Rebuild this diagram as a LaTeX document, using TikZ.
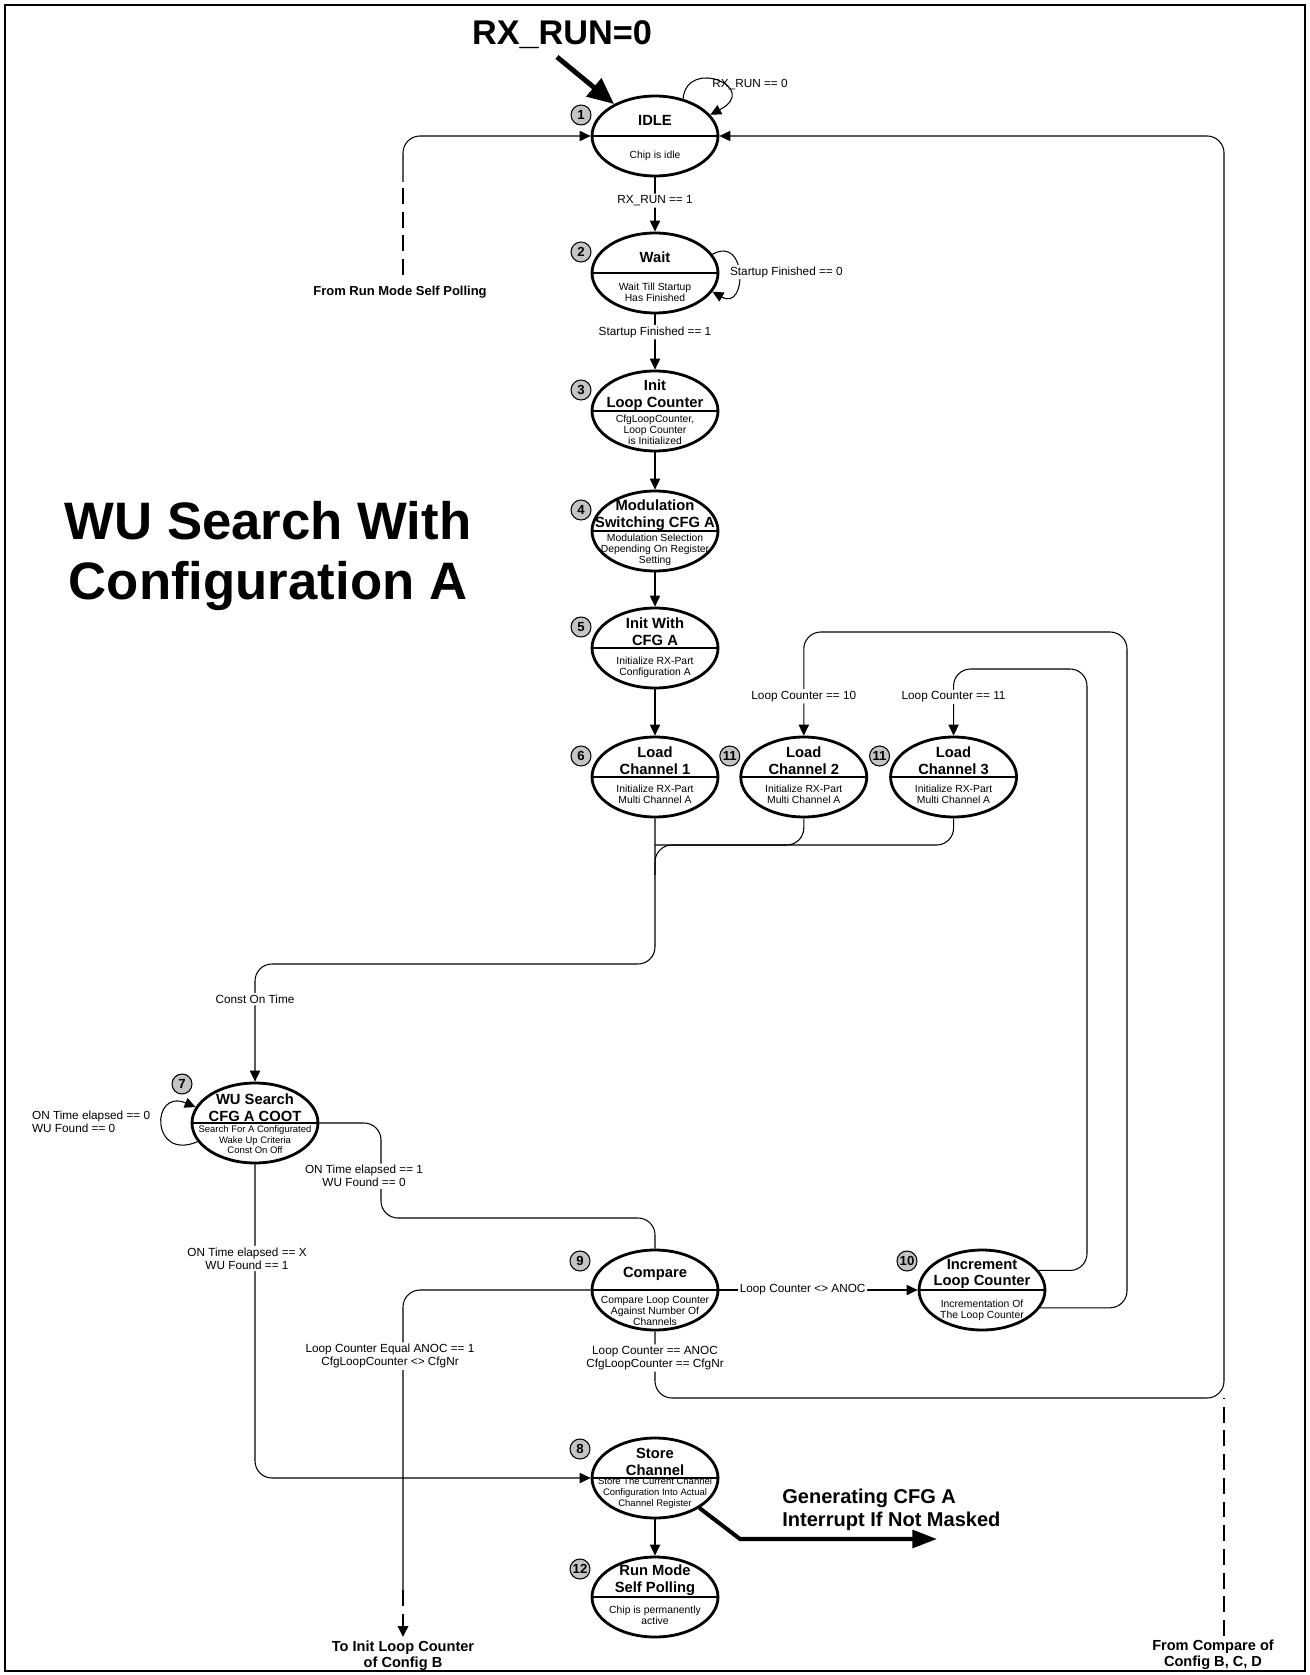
\documentclass[tikz,border=0pt]{standalone}
\usepackage{fontspec}
\setmainfont{Liberation Sans}
\usepackage{xcolor}
\definecolor{BadgeGray}{HTML}{C4C4C4}
\usetikzlibrary{shapes.geometric, arrows.meta, positioning, calc}

\begin{document}
\begin{tikzpicture}[
  x=0.02cm, y=-0.02cm,
  state/.style={
    ellipse,
    draw,
    fill=white,
    line width=1.6pt,
    minimum width=2.52cm,
    minimum height=1.6cm,
    inner sep=0pt,
    path picture={\draw[line width=0.6pt]
      (path picture bounding box.west) -- (path picture bounding box.east);}},
  stitle/.style={
    font=\fontsize{8.4}{9.6}\selectfont\bfseries,
    align=center,
    inner sep=0pt},
  ssub/.style={
    font=\fontsize{5.9}{6.4}\selectfont,
    align=center,
    inner sep=0pt},
  ssubsmall/.style={
    ssub,
    font=\fontsize{5.4}{6}\selectfont},
  badge/.style={
    circle,
    draw,
    line width=0.6pt,
    fill=BadgeGray,
    font=\fontsize{7.5}{8}\selectfont\bfseries,
    inner sep=0pt,
    minimum size=0.4cm},
  wire/.style={
    draw,
    line width=0.6pt,
    rounded corners=0.34cm},
  arr/.style={
    wire,
    -{Triangle[length=6.2pt,width=5.8pt]}},
  dashline/.style={
    draw,
    line width=1.4pt,
    dash pattern=on 9pt off 4.5pt},
  dasharr/.style={
    dashline,
    -{Triangle[length=6.2pt,width=5.8pt]}},
  bigarr/.style={
    draw,
    line width=2.8pt,
    -{Triangle[length=15pt,width=13pt]}},
  irqarr/.style={
    draw,
    line width=2.3pt,
    -{Triangle[length=14pt,width=10pt]}},
  lbl/.style={
    font=\fontsize{6.7}{7.4}\selectfont,
    fill=white,
    inner sep=1pt,
    align=center},
  lblplain/.style={
    font=\fontsize{6.7}{7.4}\selectfont,
    inner sep=1pt,
    align=left},
  sidetxt/.style={
    font=\fontsize{8.3}{9.2}\selectfont\bfseries,
    align=center,
    inner sep=0pt},
]

\useasboundingbox (0,0) rectangle (1309,1675);
\draw[line width=0.6pt] (5,5) rectangle (1305,1671);

\node[font=\fontsize{30}{34}\selectfont\bfseries, align=center] (title)
  at (268,556) {WU Search With\\Configuration A};

\node[state] (idle) at (655,136) {};
\node[stitle] (idle-t) at ([shift={(0,-16)}]idle.center) {IDLE};
\node[ssub] (idle-s) at ([shift={(0,20)}]idle.center) {Chip is idle};
\node[badge] (n1) at ([shift={(-74,-21)}]idle.center) {1};

\node[state] (wait) at (655,273) {};
\node[stitle] (wait-t) at ([shift={(0,-16)}]wait.center) {Wait};
\node[ssub] (wait-s) at ([shift={(0,19)}]wait.center) {Wait Till Startup\\Has Finished};
\node[badge] (n2) at ([shift={(-74,-21)}]wait.center) {2};

\node[state] (initlc) at (655,411) {};
\node[stitle] (initlc-t) at ([shift={(0,-16)}]initlc.center) {Init\\Loop Counter};
\node[ssub] (initlc-s) at ([shift={(0,19)}]initlc.center) {CfgLoopCounter,\\Loop Counter\\is Initialized};
\node[badge] (n3) at ([shift={(-74,-21)}]initlc.center) {3};

\node[state] (modsw) at (655,531) {};
\node[stitle] (modsw-t) at ([shift={(0,-16)}]modsw.center) {Modulation\\Switching CFG A};
\node[ssub] (modsw-s) at ([shift={(0,19)}]modsw.center) {Modulation Selection\\Depending On Register\\Setting};
\node[badge] (n4) at ([shift={(-74,-21)}]modsw.center) {4};

\node[state] (initcfg) at (655,648) {};
\node[stitle] (initcfg-t) at ([shift={(0,-16)}]initcfg.center) {Init With\\CFG A};
\node[ssub] (initcfg-s) at ([shift={(0,19)}]initcfg.center) {Initialize RX-Part\\Configuration A};
\node[badge] (n5) at ([shift={(-74,-21)}]initcfg.center) {5};

\node[state] (ch1) at (655,777) {};
\node[state, right=0.4cm of ch1] (ch2) {};
\node[state, right=0.42cm of ch2] (ch3) {};
\node[stitle] (ch1-t) at ([shift={(0,-16)}]ch1.center) {Load\\Channel 1};
\node[stitle] (ch2-t) at ([shift={(0,-16)}]ch2.center) {Load\\Channel 2};
\node[stitle] (ch3-t) at ([shift={(0,-16)}]ch3.center) {Load\\Channel 3};
\node[ssub] (ch1-s) at ([shift={(0,17)}]ch1.center) {Initialize RX-Part\\Multi Channel A};
\node[ssub] (ch2-s) at ([shift={(0,17)}]ch2.center) {Initialize RX-Part\\Multi Channel A};
\node[ssub] (ch3-s) at ([shift={(0,17)}]ch3.center) {Initialize RX-Part\\Multi Channel A};
\node[badge] (n6) at ([shift={(-74,-21)}]ch1.center) {6};
\node[badge] (n11a) at ([shift={(-74,-21)}]ch2.center) {11};
\node[badge] (n11b) at ([shift={(-74,-21)}]ch3.center) {11};

\node[state] (wu) at (255,1123) {};
\node[stitle] (wu-t) at ([shift={(0,-15)}]wu.center) {WU Search\\CFG A COOT};
\node[ssubsmall] (wu-s) at ([shift={(0,17)}]wu.center) {Search For A Configurated\\Wake Up Criteria\\Const On Off};
\node[badge] (n7) at ([shift={(-73,-39)}]wu.center) {7};

\node[state] (compare) at (655,1290) {};
\node[stitle] (compare-t) at ([shift={(0,-16)}]compare.center) {Compare};
\node[ssub] (compare-s) at ([shift={(0,21)}]compare.center) {Compare Loop Counter\\Against Number Of\\Channels};
\node[badge] (n9) at ([shift={(-75,-29)}]compare.center) {9};

\node[state] (incr) at (982,1290) {};
\node[stitle] (incr-t) at ([shift={(0,-16)}]incr.center) {Increment\\Loop Counter};
\node[ssub] (incr-s) at ([shift={(0,20)}]incr.center) {Incrementation Of\\The Loop Counter};
\node[badge] (n10) at ([shift={(-75,-29)}]incr.center) {10};

\node[state] (store) at (655,1478) {};
\node[stitle] (store-t) at ([shift={(0,-16)}]store.center) {Store\\Channel};
\node[ssubsmall] (store-s) at ([shift={(0,15)}]store.center) {Store The Current Channel\\Configuration Into Actual\\Channel Register};
\node[badge] (n8) at ([shift={(-75,-29)}]store.center) {8};

\node[state] (runmode) at (655,1597) {};
\node[stitle] (runmode-t) at ([shift={(0,-17)}]runmode.center) {Run Mode\\Self Polling};
\node[ssub] (runmode-s) at ([shift={(0,18)}]runmode.center) {Chip is permanently\\active};
\node[badge] (n12) at ([shift={(-75,-28)}]runmode.center) {12};

\coordinate (rxstart) at (557,57);
\coordinate (fromrun) at (403,275);
\coordinate (runsolid) at (403,182);
\coordinate (chbus) at (655,845);
\coordinate (wubus) at (255,964);
\coordinate (cmpbus) at (381,1218);
\coordinate (ch2bus) at (1127,632);
\coordinate (ch3bus) at (1087,669);
\coordinate (cfgjoin) at (1224,1398);
\coordinate (fromBCD) at (1224,1636);
\coordinate (toBdash) at (403,1590);
\coordinate (toB) at (403,1637);
\coordinate (irqbend) at (740,1539);
\coordinate (irqend) at (937,1539);

\node[font=\fontsize{19.5}{22}\selectfont\bfseries, inner sep=0pt] (rxrun0)
  at (562,35) {RX\_RUN=0};
\draw[bigarr] (rxstart) -- (idle.142);

\draw[arr] (idle.53) .. controls +(4,-42) and +(51,-27) .. (idle.21);
\node[lblplain] (l-idle) at (750,85) {RX\_RUN == 0};

\draw[arr] (idle) -- node[lbl, pos=0.43] {RX\_RUN == 1} (wait);

\draw[arr] (wait.18) .. controls +(35,-20) and +(35,20) .. (wait.-18);
\node[lbl, anchor=west] (l-wait) at (728,272) {Startup Finished == 0};

\draw[arr] (wait) -- node[lbl, pos=0.32] {Startup Finished == 1} (initlc);
\draw[arr] (initlc) -- (modsw);
\draw[arr] (modsw) -- (initcfg);
\draw[arr] (initcfg) -- (ch1);

\draw[dashline] (fromrun) -- (runsolid);
\draw[arr] (runsolid) |- (idle.west);
\node[font=\fontsize{7.4}{8.4}\selectfont\bfseries, inner sep=0pt] (l-fromrun)
  at (400,292) {From Run Mode Self Polling};

\draw[wire] (ch3.south) |- (chbus) -- ++(0,30);
\draw[wire] (ch2.south) |- (chbus);
\draw[arr] (ch1.south) |- (wubus)
  -- node[lbl, pos=0.3] {Const On Time} (wu.north);

\draw[arr] (wu.198) .. controls +(-47,20) and +(-45,-19) .. (wu.165);
\node[lblplain, anchor=west] (l-wu) at (30,1122) {ON Time elapsed == 0\\WU Found == 0};

\draw[wire] (wu.east) -| node[lbl, pos=0.78, xshift=-0.34cm]
  {ON Time elapsed == 1\\WU Found == 0} (cmpbus) -| (compare.north);

\draw[arr] (wu.south) |- node[lbl, pos=0.15, xshift=-0.16cm]
  {ON Time elapsed == X\\WU Found == 1} (store.west);

\draw[arr] (compare.east) -- node[lbl, pos=0.42] {Loop Counter <> ANOC} (incr.west);

\draw[wire] (compare.west) -| node[lbl, pos=0.61, xshift=-0.26cm]
  {Loop Counter Equal ANOC == 1\\CfgLoopCounter <> CfgNr} (toBdash);
\draw[dasharr] (toBdash) -- (toB);
\node[sidetxt] (l-toB) at (403,1656) {To Init Loop Counter\\of Config B};

\draw[arr] (compare.south) |- node[lbl, pos=0.2]
  {Loop Counter == ANOC\\CfgLoopCounter == CfgNr} (cfgjoin) |- (idle.east);
\draw[dashline] (fromBCD) -- (cfgjoin);
\node[sidetxt] (l-fromBCD) at (1213,1655) {From Compare of\\Config B, C, D};

\draw[arr] (incr.19) -| (ch3bus)
  -| node[lbl, pos=0.71] {Loop Counter == 11} (ch3.north);
\draw[arr] (incr.-17) -| (ch2bus)
  -| node[lbl, pos=0.81] {Loop Counter == 10} (ch2.north);

\draw[arr] (store) -- (runmode);
\draw[irqarr] (store.-34) -- (irqbend) -- (irqend);
\node[font=\fontsize{11.4}{13}\selectfont\bfseries, align=left, anchor=west, inner sep=0pt]
  (irqtxt) at (782,1510) {Generating CFG A\\Interrupt If Not Masked};

\end{tikzpicture}
\end{document}
